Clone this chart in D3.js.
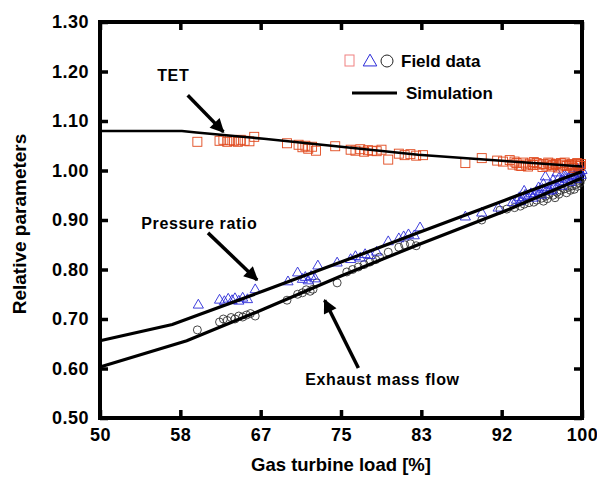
<!DOCTYPE html>
<html>
<head>
<meta charset="utf-8">
<script src="https://cdn.jsdelivr.net/npm/d3@7"></script>
<style>
  body { margin: 0; background: #fff; }
  text { font-family: "Liberation Sans", Arial, sans-serif; font-weight: bold; }
</style>
</head>
<body>
<script>
//tick values and labels
var xTicks = [50, 58.333, 66.667, 75, 83.333, 91.667, 100],
    xTickLabels = ["50", "58", "67", "75", "83", "92", "100"],
    yTicks = [0.5, 0.6, 0.7, 0.8, 0.9, 1.0, 1.1, 1.2, 1.3];

//simulation curves [load, value]
var simTET = [[50, 1.08], [58.5, 1.08], [60, 1.077], [67, 1.064], [75, 1.048], [83, 1.032], [92, 1.019], [100, 1.008]];
var simPressure = [[50, 0.656], [57.5, 0.689], [67, 0.757], [75, 0.815], [83, 0.874], [92, 0.94], [100, 0.998]];
var simExhaust = [[50, 0.603], [59, 0.656], [67, 0.72], [75, 0.787], [83, 0.85], [92, 0.918], [100, 0.985]];

//field data [load, value]
var fieldTET = [[60.1, 1.058], [62.4, 1.060], [62.8, 1.062], [63.2, 1.058], [63.5, 1.061], [63.9, 1.060], [64.3, 1.058],
    [64.6, 1.062], [65.0, 1.060], [65.5, 1.059], [66.0, 1.068], [69.4, 1.055], [70.6, 1.052], [71.0, 1.047], [71.3, 1.050],
    [71.6, 1.044], [72.0, 1.048], [72.4, 1.040], [74.4, 1.049], [76.0, 1.042], [76.5, 1.040], [77.0, 1.043], [77.4, 1.038],
    [77.8, 1.041], [78.2, 1.040], [78.7, 1.039], [79.2, 1.042], [79.9, 1.022], [81.0, 1.034], [81.6, 1.031], [82.2, 1.033],
    [82.8, 1.030], [83.5, 1.031], [87.9, 1.015], [89.6, 1.025], [91.2, 1.020], [91.8, 1.018], [92.5, 1.021], [92.8, 1.012],
    [93.2, 1.015], [93.5, 1.010], [93.9, 1.016], [94.2, 1.012], [94.6, 1.014], [94.9, 1.011], [95.3, 1.015], [95.6, 1.012],
    [96.0, 1.013], [96.3, 1.010], [96.7, 1.014], [97.0, 1.011], [97.3, 1.013], [97.7, 1.010], [98.0, 1.012], [98.4, 1.009],
    [98.7, 1.011], [99.0, 1.008], [99.3, 1.010], [99.6, 1.012], [99.8, 1.009], [93.7, 1.009], [95.0, 1.017], [96.5, 1.016],
    [97.8, 1.015], [98.9, 1.013], [99.5, 1.015], [94.4, 1.008], [96.9, 1.008], [93.0, 1.018], [95.9, 1.007], [97.5, 1.006],
    [98.2, 1.016], [99.1, 1.005], [99.9, 1.013]];

var fieldPressure = [[60.2, 0.728], [62.4, 0.738], [62.9, 0.735], [63.3, 0.740], [63.7, 0.737], [64.0, 0.741], [64.4, 0.736],
    [64.8, 0.742], [65.3, 0.739], [66.1, 0.759], [69.5, 0.775], [70.5, 0.793], [71.0, 0.780], [71.3, 0.784], [71.6, 0.777],
    [71.9, 0.786], [72.3, 0.781], [72.6, 0.807], [74.6, 0.813], [76.0, 0.820], [76.5, 0.826], [77.0, 0.823], [77.5, 0.830],
    [78.0, 0.828], [78.7, 0.835], [79.9, 0.856], [81.0, 0.862], [81.5, 0.866], [82.0, 0.870], [82.6, 0.868], [83.2, 0.884],
    [87.9, 0.906], [89.6, 0.914], [91.3, 0.924], [92.8, 0.935], [93.2, 0.940], [93.5, 0.945], [93.8, 0.942], [94.1, 0.950],
    [94.4, 0.947], [94.7, 0.953], [95.0, 0.950], [95.3, 0.958], [95.6, 0.955], [95.9, 0.962], [96.2, 0.987], [96.5, 0.965],
    [96.8, 0.970], [97.1, 0.968], [97.4, 0.995], [97.7, 0.975], [98.0, 0.978], [98.3, 0.982], [98.6, 0.985], [98.9, 0.988],
    [99.2, 0.990], [99.5, 0.993], [99.8, 0.997], [100, 1.0], [94.0, 0.958], [95.5, 0.965], [96.0, 0.972], [97.0, 0.980],
    [98.2, 0.990], [99.0, 0.995], [99.6, 1.002], [93.6, 0.937], [96.6, 0.958], [94.9, 0.944], [95.8, 0.950], [96.9, 0.960],
    [97.9, 0.968], [98.8, 0.976], [99.4, 0.982], [99.9, 0.990], [97.6, 0.984], [98.5, 0.994]];

var fieldExhaust = [[60.1, 0.678], [62.4, 0.694], [62.8, 0.700], [63.2, 0.697], [63.6, 0.703], [64.0, 0.700], [64.4, 0.706],
    [64.8, 0.704], [65.2, 0.708], [65.6, 0.711], [66.1, 0.706], [69.4, 0.738], [70.5, 0.750], [71.0, 0.753], [71.4, 0.759],
    [71.8, 0.756], [72.1, 0.760], [72.5, 0.773], [74.6, 0.773], [75.6, 0.795], [76.2, 0.800], [76.8, 0.805], [77.4, 0.810],
    [78.0, 0.815], [78.6, 0.820], [79.0, 0.825], [79.9, 0.835], [81.0, 0.845], [81.6, 0.850], [82.2, 0.852], [82.8, 0.848],
    [89.6, 0.900], [91.5, 0.920], [92.2, 0.922], [93.0, 0.925], [93.6, 0.928], [94.5, 0.935], [95.3, 0.940], [95.8, 0.944],
    [96.2, 0.948], [96.6, 0.952], [97.0, 0.950], [97.4, 0.956], [97.8, 0.960], [98.2, 0.963], [98.6, 0.966], [99.0, 0.969],
    [99.4, 0.972], [99.8, 0.975], [96.0, 0.938], [97.2, 0.945], [98.4, 0.955], [99.2, 0.962], [99.7, 0.980], [100, 0.985],
    [94.0, 0.932], [95.0, 0.936], [96.4, 0.943], [97.6, 0.952], [98.8, 0.960], [99.5, 0.968]];

//chart frame dimensions
var width = 597, height = 480,
    margin = {top: 22, right: 15, bottom: 62, left: 100},
    innerW = width - margin.left - margin.right,
    innerH = height - margin.top - margin.bottom;

var svg = d3.select("body").append("svg")
    .attr("width", width)
    .attr("height", height);

var g = svg.append("g")
    .attr("transform", "translate(" + margin.left + "," + margin.top + ")");

var x = d3.scaleLinear().domain([50, 100]).range([0, innerW]);
var y = d3.scaleLinear().domain([0.5, 1.3]).range([innerH, 0]);

//inward ticks on all four sides
var tickLen = 8;
g.append("g")
    .attr("transform", "translate(0," + innerH + ")")
    .call(d3.axisBottom(x).tickValues(xTicks).tickSizeInner(-tickLen).tickSizeOuter(0).tickPadding(10)
        .tickFormat(function (d, i) { return xTickLabels[i]; }))
    .call(styleAxis);
g.append("g")
    .call(d3.axisTop(x).tickValues(xTicks).tickSizeInner(-tickLen).tickSizeOuter(0).tickFormat(""))
    .call(styleAxis);
g.append("g")
    .call(d3.axisLeft(y).tickValues(yTicks).tickSizeInner(-tickLen).tickSizeOuter(0).tickPadding(11)
        .tickFormat(d3.format(".2f")))
    .call(styleAxis);
g.append("g")
    .attr("transform", "translate(" + innerW + ",0)")
    .call(d3.axisRight(y).tickValues(yTicks).tickSizeInner(-tickLen).tickSizeOuter(0).tickFormat(""))
    .call(styleAxis);

function styleAxis(sel) {
    sel.select(".domain").remove();
    sel.selectAll(".tick line").attr("stroke", "#000").attr("stroke-width", 3.5);
    sel.selectAll(".tick text").attr("fill", "#000").style("font-size", "18px").style("letter-spacing", "0.5px");
}

//frame
g.append("rect")
    .attr("width", innerW)
    .attr("height", innerH)
    .attr("fill", "none")
    .attr("stroke", "#000")
    .attr("stroke-width", 4);

//axis titles
svg.append("text")
    .attr("x", margin.left + innerW / 2)
    .attr("y", 471)
    .attr("text-anchor", "middle")
    .style("font-size", "18.5px")
    .text("Gas turbine load [%]");
svg.append("text")
    .attr("transform", "translate(26," + (margin.top + innerH / 2 + 4) + ") rotate(-90)")
    .attr("text-anchor", "middle")
    .style("font-size", "19px")
    .text("Relative parameters");

//field data markers
var plot = g.append("g");
plot.selectAll(".circ").data(fieldExhaust).enter().append("circle")
    .attr("cx", function (d) { return x(d[0]); })
    .attr("cy", function (d) { return y(d[1]); })
    .attr("r", 4)
    .attr("fill", "none")
    .attr("stroke", "#333")
    .attr("stroke-width", 0.9);

var tri = d3.symbol().type(d3.symbolTriangle).size(45);
plot.selectAll(".tri").data(fieldPressure).enter().append("path")
    .attr("d", tri)
    .attr("transform", function (d) { return "translate(" + x(d[0]) + "," + y(d[1]) + ")"; })
    .attr("fill", "none")
    .attr("stroke", "#2a2ad8")
    .attr("stroke-width", 0.9);

plot.selectAll(".sq").data(fieldTET).enter().append("rect")
    .attr("x", function (d) { return x(d[0]) - 4.5; })
    .attr("y", function (d) { return y(d[1]) - 4.5; })
    .attr("width", 9)
    .attr("height", 9)
    .attr("fill", "none")
    .attr("stroke", "#e0481c")
    .attr("stroke-width", 0.9);

//simulation lines
var line = d3.line()
    .x(function (d) { return x(d[0]); })
    .y(function (d) { return y(d[1]); });
[simTET, simPressure, simExhaust].forEach(function (s, i) {
    g.append("path")
        .datum(s)
        .attr("d", line)
        .attr("fill", "none")
        .attr("stroke", "#000")
        .attr("stroke-width", i === 0 ? 2.5 : 3.2);
});

//annotations with arrows
svg.append("defs").append("marker")
    .attr("id", "arrow")
    .attr("viewBox", "0 0 10 10")
    .attr("refX", 9)
    .attr("refY", 5)
    .attr("markerUnits", "userSpaceOnUse")
    .attr("markerWidth", 17)
    .attr("markerHeight", 14)
    .attr("orient", "auto")
    .append("path")
    .attr("d", "M0,0 L10,5 L0,10 z")
    .attr("fill", "#000");

var notes = [
    {text: "TET", tx: 57.6, ty: 1.193, from: [59.1, 1.152], to: [62.8, 1.078]},
    {text: "Pressure ratio", tx: 60.3, ty: 0.894, from: [61.2, 0.874], to: [66.3, 0.779]},
    {text: "Exhaust mass flow", tx: 79.3, ty: 0.577, from: [76.8, 0.601], to: [73.3, 0.738]}
];
notes.forEach(function (n) {
    g.append("line")
        .attr("x1", x(n.from[0])).attr("y1", y(n.from[1]))
        .attr("x2", x(n.to[0])).attr("y2", y(n.to[1]))
        .attr("stroke", "#000")
        .attr("stroke-width", 3.5)
        .attr("marker-end", "url(#arrow)");
    g.append("text")
        .attr("x", x(n.tx))
        .attr("y", y(n.ty))
        .attr("dy", "0.35em")
        .attr("text-anchor", "middle")
        .style("font-size", "16px")
        .style("letter-spacing", "0.6px")
        .text(n.text);
});

//legend
var legend = svg.append("g");
legend.append("rect").attr("x", 345).attr("y", 55).attr("width", 9).attr("height", 11)
    .attr("fill", "none").attr("stroke", "#f08080").attr("stroke-width", 1);
legend.append("path").attr("d", d3.symbol().type(d3.symbolTriangle).size(80))
    .attr("transform", "translate(370,62)")
    .attr("fill", "none").attr("stroke", "#2a2ad8").attr("stroke-width", 1);
legend.append("circle").attr("cx", 387).attr("cy", 61).attr("r", 6)
    .attr("fill", "none").attr("stroke", "#222").attr("stroke-width", 1);
legend.append("text").attr("x", 401).attr("y", 61).attr("dy", "0.35em")
    .style("font-size", "17px").text("Field data");
legend.append("line").attr("x1", 352).attr("x2", 397).attr("y1", 93).attr("y2", 93)
    .attr("stroke", "#000").attr("stroke-width", 3);
legend.append("text").attr("x", 406).attr("y", 93).attr("dy", "0.35em")
    .style("font-size", "17px").text("Simulation");
</script>
</body>
</html>
